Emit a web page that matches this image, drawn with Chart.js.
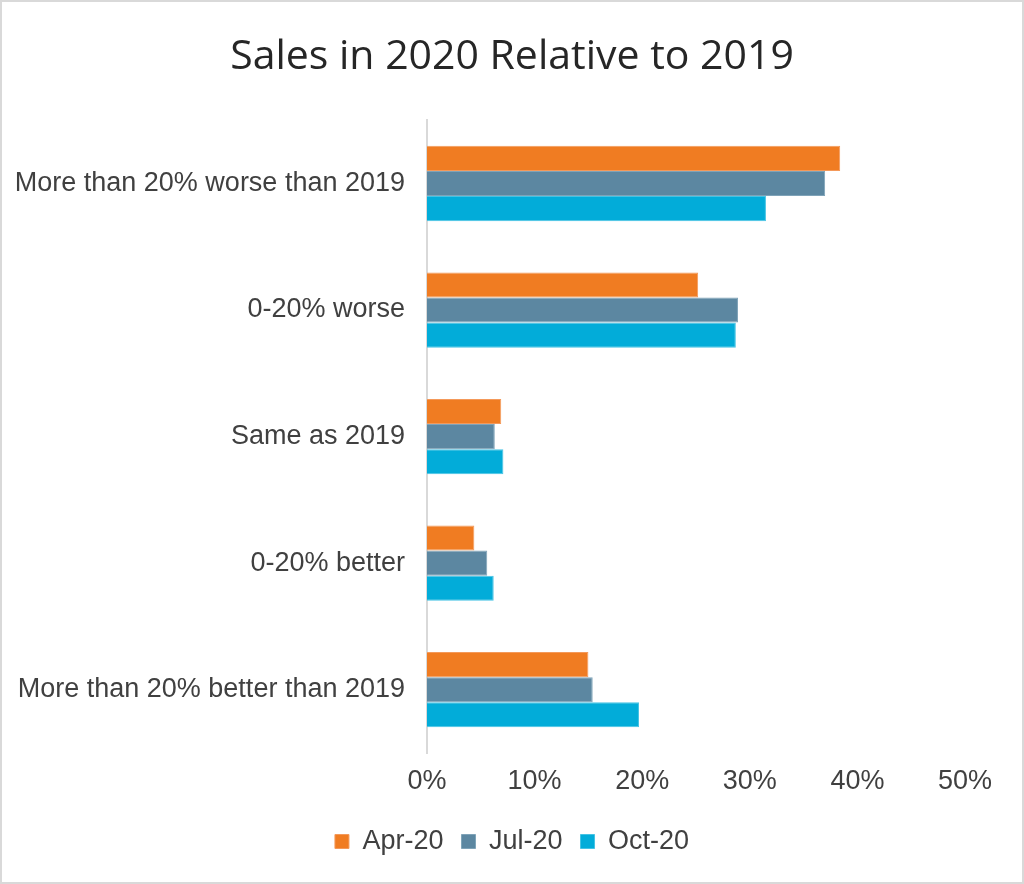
<!DOCTYPE html>
<html>
<head>
<meta charset="utf-8">
<script src="https://cdn.jsdelivr.net/npm/chart.js@4/dist/chart.umd.min.js"></script>
<style>
  html, body { margin: 0; padding: 0; background: #ffffff; }
  #wrap { width: 1024px; height: 884px; position: relative; }
</style>
</head>
<body>
<div id="wrap"><canvas id="c"></canvas></div>
<script>
const categories = [
  "More than 20% worse than 2019",
  "0-20% worse",
  "Same as 2019",
  "0-20% better",
  "More than 20% better than 2019"
];
const seriesNames = ["Apr-20", "Jul-20", "Oct-20"];
const apr20 = [38.4, 25.2, 6.9, 4.4, 15.0];
const jul20 = [37.0, 28.9, 6.3, 5.6, 15.4];
const oct20 = [31.5, 28.7, 7.1, 6.2, 19.7];
const xTicks = [0, 10, 20, 30, 40, 50];

const colors = ["#F07C22", "#5C87A1", "#02ACD9"];
const borders = ["#F4995A", "#7FA3B8", "#45C3E4"];

const frame = {
  id: 'frame',
  beforeDraw(chart) {
    const ctx = chart.ctx;
    ctx.save();
    ctx.fillStyle = '#ffffff';
    ctx.fillRect(0, 0, chart.width, chart.height);
    ctx.strokeStyle = '#d9d9d9';
    ctx.lineWidth = 2;
    ctx.strokeRect(1, 1, chart.width - 2, chart.height - 2);
    ctx.restore();
  }
};

const labelFont = { family: '"Liberation Sans", Arial, sans-serif', size: 27 };
const tickFont = { family: '"Liberation Sans", Arial, sans-serif', size: 27, lineHeight: 1.0 };

new Chart(document.getElementById('c'), {
  type: 'bar',
  data: {
    labels: categories,
    datasets: [apr20, jul20, oct20].map((d, i) => ({
      label: seriesNames[i],
      data: d,
      backgroundColor: colors[i],
      borderColor: borders[i],
      borderWidth: 1,
      categoryPercentage: 0.595,
      barPercentage: 1.0
    }))
  },
  options: {
    indexAxis: 'y',
    responsive: true,
    maintainAspectRatio: false,
    animation: false,
    layout: { padding: { left: 0, right: 0, top: 0, bottom: 19 } },
    plugins: {
      title: {
        display: true,
        text: 'Sales in 2020 Relative to 2019',
        color: '#262626',
        font: { family: '"Open Sans", sans-serif', size: 41, weight: 'normal', lineHeight: 1.2 },
        padding: { top: 33, bottom: 38 }
      },
      legend: {
        position: 'bottom',
        labels: {
          color: '#404040',
          font: labelFont,
          boxWidth: 14,
          boxHeight: 14,
          padding: 18
        }
      },
      tooltip: { enabled: false }
    },
    scales: {
      x: {
        min: 0,
        max: 55.48,
        afterBuildTicks(scale) { scale.ticks = xTicks.map(v => ({ value: v })); },
        grid: { display: false, drawTicks: false },
        border: { display: false },
        ticks: {
          color: '#404040',
          padding: 15,
          font: tickFont,
          callback: v => v + '%'
        }
      },
      y: {
        afterFit(scale) { scale.width = 427; },
        grid: { display: false, drawTicks: false },
        border: { display: true, color: '#d9d9d9', width: 2 },
        ticks: {
          color: '#404040',
          padding: 22,
          font: labelFont
        }
      }
    }
  },
  plugins: [frame]
});
</script>
</body>
</html>
